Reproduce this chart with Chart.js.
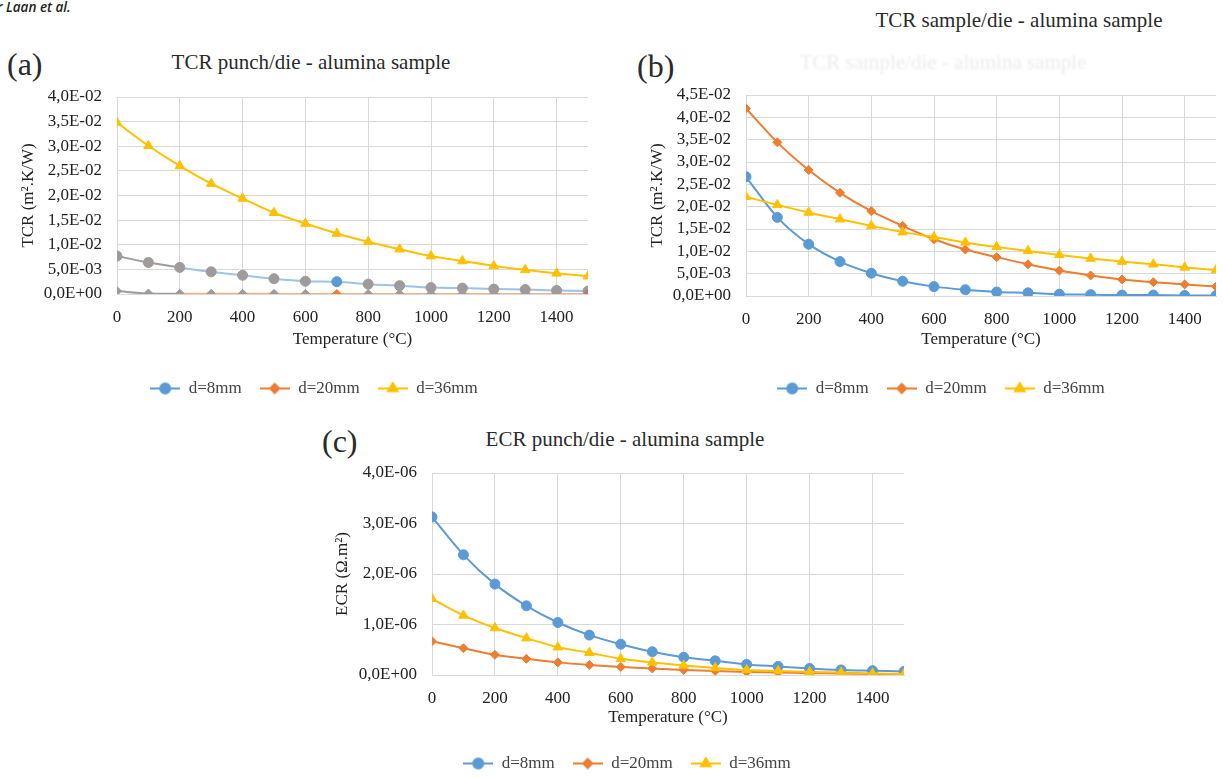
<!DOCTYPE html>
<html>
<head>
<meta charset="utf-8">
<script src="https://cdn.jsdelivr.net/npm/chart.js@4.4.1/dist/chart.umd.min.js"></script>
<style>
  html, body { margin: 0; padding: 0; background: #fff; }
  body { width: 1226px; height: 778px; position: relative; overflow: hidden; font-family: 'Liberation Serif', serif; color: #2a2a2a; }
  .txt { position: absolute; white-space: nowrap; line-height: 1; }
  .panel { font-size: 32px; }
  .title { font-size: 21px; transform: translateX(-50%); }
  .ghost { color: #ebebeb; filter: blur(1.2px); }
  .author { font-family: 'Open Sans', sans-serif; font-style: italic; font-weight: 600; font-size: 13.5px; color: #222; left: -3px; top: 1px; }
  canvas { position: absolute; }
</style>
</head>
<body>
<div class="txt author">r Laan et al.</div>
<div class="txt title" style="left:1019px; top:10px;">TCR sample/die - alumina sample</div>

<div class="txt panel" style="left:7px; top:48px;">(a)</div>
<div class="txt title" style="left:311px; top:52px;">TCR punch/die - alumina sample</div>

<div class="txt panel" style="left:637px; top:50px;">(b)</div>
<div class="txt title ghost" style="left:943px; top:52px;">TCR sample/die - alumina sample</div>

<div class="txt panel" style="left:322px; top:425px;">(c)</div>
<div class="txt title" style="left:625px; top:429px;">ECR punch/die - alumina sample</div>

<canvas id="chartA" width="628" height="329" style="left:0px; top:78px;"></canvas>
<canvas id="chartB" width="600" height="329" style="left:626px; top:78px;"></canvas>
<canvas id="chartC" width="640" height="327" style="left:310px; top:455px;"></canvas>

<script>
// temperatures (°C)
const temps = [0, 100, 200, 300, 400, 500, 600, 700, 800, 900, 1000, 1100, 1200, 1300, 1400, 1500];
const xTicks = [0, 200, 400, 600, 800, 1000, 1200, 1400];
const seriesNames = ['d=8mm', 'd=20mm', 'd=36mm'];

// (a) TCR punch/die, m².K/W
const tcrPunch8 = [0.0077, 0.0064, 0.0054, 0.0045, 0.0038, 0.0031, 0.0026, 0.0025, 0.0020, 0.0017, 0.0013, 0.0012, 0.0010, 0.0009, 0.0007, 0.0006];
const tcrPunch20 = [0.0006, 0.0001, 0.00005, 0.00004, 0.00003, 0.00003, 0.00002, 0.00002, 0.00002, 0.00001, 0.00001, 0.00001, 0.00001, 0.00001, 0.00001, 0.00001];
const tcrPunch36 = [0.0348, 0.0301, 0.0260, 0.0224, 0.0194, 0.0165, 0.0143, 0.0123, 0.0106, 0.0091, 0.0077, 0.0067, 0.0057, 0.0049, 0.0042, 0.0036];

// (b) TCR sample/die, m².K/W
const tcrSample8 = [0.0267, 0.0176, 0.0116, 0.0077, 0.0051, 0.0033, 0.0021, 0.0014, 0.0009, 0.0007, 0.0004, 0.0003, 0.0002, 0.0002, 0.0001, 0.0001];
const tcrSample20 = [0.0420, 0.0344, 0.0282, 0.0231, 0.0190, 0.0157, 0.0127, 0.0104, 0.0087, 0.0071, 0.0057, 0.0046, 0.0037, 0.0031, 0.0026, 0.0021];
const tcrSample36 = [0.0222, 0.0204, 0.0187, 0.0172, 0.0157, 0.0143, 0.0132, 0.0120, 0.0110, 0.0101, 0.0092, 0.0084, 0.0077, 0.0071, 0.0064, 0.0058];

// (c) ECR punch/die, Ω.m²
const ecrPunch8 = [3.13e-6, 2.38e-6, 1.80e-6, 1.37e-6, 1.04e-6, 0.79e-6, 0.61e-6, 0.46e-6, 0.35e-6, 0.28e-6, 0.21e-6, 0.17e-6, 0.13e-6, 0.10e-6, 0.085e-6, 0.07e-6];
const ecrPunch20 = [0.67e-6, 0.53e-6, 0.40e-6, 0.32e-6, 0.25e-6, 0.20e-6, 0.16e-6, 0.13e-6, 0.10e-6, 0.08e-6, 0.06e-6, 0.05e-6, 0.035e-6, 0.03e-6, 0.02e-6, 0.015e-6];
const ecrPunch36 = [1.51e-6, 1.18e-6, 0.93e-6, 0.73e-6, 0.55e-6, 0.44e-6, 0.32e-6, 0.25e-6, 0.19e-6, 0.14e-6, 0.10e-6, 0.08e-6, 0.06e-6, 0.05e-6, 0.03e-6, 0.02e-6];

const tcrTicksA = [0, 0.005, 0.01, 0.015, 0.02, 0.025, 0.03, 0.035, 0.04];
const tcrTicksB = [0, 0.005, 0.01, 0.015, 0.02, 0.025, 0.03, 0.035, 0.04, 0.045];
const ecrTicks = [0, 1e-6, 2e-6, 3e-6, 4e-6];

const BLUE = '#5b9bd5', ORANGE = '#ed7d31', YELLOW = '#ffc000', GRAY = '#a09a9a';
const GRID = '#d9d9d9';
const SERIF = "'Liberation Serif', serif";
const TXT = '#222';

const styles = [
    { color: BLUE, pointStyle: 'circle', radius: 5 },
    { color: ORANGE, pointStyle: 'rectRot', radius: 4.5 },
    { color: YELLOW, pointStyle: 'triangle', radius: 5.5 }
];

// "4,0E-02" style labels
function sci(v) {
    if (Math.abs(v) < 1e-15) return '0,0E+00';
    const parts = v.toExponential(1).split('e');
    const n = parseInt(parts[1], 10);
    return parts[0].replace('.', ',') + 'E' + (n < 0 ? '-' : '+') + String(Math.abs(n)).padStart(2, '0');
}

// small line + marker icon for the legend
function legendIcon(style) {
    const c = document.createElement('canvas');
    c.width = 30;
    c.height = 14;
    const ctx = c.getContext('2d');
    ctx.strokeStyle = style.color;
    ctx.lineWidth = 2;
    ctx.beginPath();
    ctx.moveTo(0, 7);
    ctx.lineTo(30, 7);
    ctx.stroke();
    Chart.helpers.drawPoint(ctx, {
        pointStyle: style.pointStyle,
        radius: style.radius,
        rotation: 0,
        borderWidth: 1
    }, 15, 7);
    ctx.fillStyle = style.color;
    ctx.fill();
    return c;
}

function makeDatasets(seriesList, overrides) {
    return seriesList.map((values, i) => {
        const s = styles[i];
        const ds = {
            label: seriesNames[i],
            data: temps.map((t, k) => ({ x: t, y: values[k] })),
            borderColor: s.color,
            backgroundColor: s.color,
            pointBackgroundColor: s.color,
            pointBorderColor: s.color,
            borderWidth: 2,
            pointStyle: s.pointStyle,
            pointRadius: s.radius,
            pointBorderWidth: 1,
            tension: 0.3,
            fill: false,
            order: 3 - i
        };
        return Object.assign(ds, (overrides && overrides[i]) || {});
    });
}

function makeChart(id, datasets, cfg) {
    const ctx = document.getElementById(id).getContext('2d');
    return new Chart(ctx, {
        type: 'line',
        data: { datasets: datasets },
        options: {
            responsive: false,
            animation: false,
            devicePixelRatio: 1,
            layout: { padding: cfg.padding },
            plugins: {
                legend: {
                    position: 'bottom',
                    labels: {
                        font: { family: SERIF, size: 17 },
                        color: '#444',
                        padding: 18,
                        usePointStyle: true,
                        pointStyleWidth: 30,
                        generateLabels: (chart) => chart.data.datasets.map((ds, i) => ({
                            text: ds.label,
                            pointStyle: legendIcon(styles[i]),
                            fillStyle: styles[i].color,
                            strokeStyle: styles[i].color,
                            lineWidth: 0,
                            hidden: false,
                            datasetIndex: i,
                            fontColor: '#444'
                        }))
                    }
                },
                tooltip: { enabled: false }
            },
            scales: {
                x: {
                    type: 'linear',
                    min: 0,
                    max: 1500,
                    afterBuildTicks: (scale) => { scale.ticks = xTicks.map(v => ({ value: v })); },
                    afterFit: (scale) => { scale.height = cfg.xHeight; },
                    grid: { color: GRID, drawTicks: true, tickLength: 11, tickColor: 'rgba(0,0,0,0)' },
                    border: { color: GRID },
                    ticks: {
                        padding: 2,
                        maxRotation: 0,
                        autoSkip: false,
                        color: TXT,
                        font: { family: SERIF, size: 17 },
                        callback: (v) => String(v)
                    },
                    title: {
                        display: true,
                        text: 'Temperature (°C)',
                        color: TXT,
                        font: { family: SERIF, size: 17 },
                        padding: { top: 0, bottom: cfg.xTitlePad }
                    }
                },
                y: {
                    min: 0,
                    max: cfg.yMax,
                    afterBuildTicks: (scale) => { scale.ticks = cfg.yTicks.map(v => ({ value: v })); },
                    afterFit: (scale) => { scale.width = cfg.yWidth; },
                    grid: { color: GRID, drawTicks: true, tickLength: 13, tickColor: 'rgba(0,0,0,0)' },
                    border: { display: false },
                    ticks: {
                        padding: 2,
                        autoSkip: false,
                        color: TXT,
                        font: { family: SERIF, size: 17 },
                        callback: (v) => sci(v)
                    },
                    title: {
                        display: true,
                        text: cfg.yTitle,
                        color: TXT,
                        font: { family: SERIF, size: 17 },
                        padding: { top: cfg.yTitlePad, bottom: 0 }
                    }
                }
            }
        }
    });
}

// panel (a): most markers of the two lower series show up grey in the figure
const grayPts = (keep) => temps.map((t, k) => keep[k] || GRAY);
const blueKeep = {}; blueKeep[7] = BLUE;
const orangeKeep = {}; orangeKeep[7] = ORANGE; orangeKeep[15] = '#b8776a';
const grayStart = (col) => ({ borderColor: (c) => (c.p0.parsed.x < 200 ? GRAY : col) });

// left padding keeps each legend centred where the figure has it
makeChart('chartA', makeDatasets([tcrPunch8, tcrPunch20, tcrPunch36], [
    { pointBackgroundColor: grayPts(blueKeep), pointBorderColor: grayPts(blueKeep), borderColor: '#9dc3e6', segment: grayStart('#9dc3e6') },
    { pointBackgroundColor: grayPts(orangeKeep), pointBorderColor: grayPts(orangeKeep), borderColor: '#f4b183', segment: grayStart('#f4b183') },
    {}
]), {
    padding: { top: 19, right: 40, bottom: 0, left: 40 },
    yMax: 0.04, yTicks: tcrTicksA, yWidth: 77, yTitle: 'TCR (m².K/W)', yTitlePad: -22,
    xHeight: 68, xTitlePad: 12
});

makeChart('chartB', makeDatasets([tcrSample8, tcrSample20, tcrSample36]), {
    padding: { top: 17, right: 10, bottom: 0, left: 40 },
    yMax: 0.045, yTicks: tcrTicksB, yWidth: 80, yTitle: 'TCR (m².K/W)', yTitlePad: -19,
    xHeight: 66, xTitlePad: 12
});

makeChart('chartC', makeDatasets([ecrPunch8, ecrPunch20, ecrPunch36]), {
    padding: { top: 18, right: 46, bottom: 0, left: 40 },
    yMax: 4e-6, yTicks: ecrTicks, yWidth: 82, yTitle: 'ECR (Ω.m²)', yTitlePad: -18,
    xHeight: 62, xTitlePad: 9
});
</script>
</body>
</html>
